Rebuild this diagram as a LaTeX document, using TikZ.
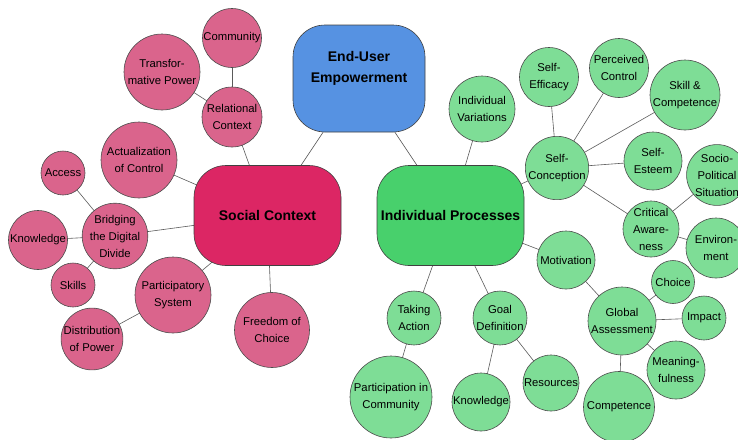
\documentclass[tikz,border=0pt]{standalone}
\usepackage{fontspec}
\setmainfont{Liberation Sans}
\definecolor{rootblue}{RGB}{86, 146, 226}
\definecolor{socred}{RGB}{220, 38, 100}
\definecolor{socpink}{RGB}{218, 100, 140}
\definecolor{indgreen}{RGB}{72, 208, 108}
\definecolor{leafgreen}{RGB}{126, 221, 150}
\definecolor{edgegray}{RGB}{90, 90, 90}
\usepackage{tikz}
\usetikzlibrary{shapes, positioning, backgrounds}

\begin{document}
\begin{tikzpicture}[x=1pt, y=-1pt,
  hub/.style={draw=black!75, rectangle, rounded corners=32pt, line width=0.6pt,
              font=\fontsize{14}{21}\selectfont\bfseries, align=center,
              minimum width=147pt, minimum height=100pt},
  pk/.style={draw=black!70, circle, fill=socpink, line width=0.6pt, inner sep=0pt,
             font=\fontsize{11.3}{17}\selectfont, align=center},
  gr/.style={draw=black!70, circle, fill=leafgreen, line width=0.6pt, inner sep=0pt,
             font=\fontsize{11.3}{17}\selectfont, align=center},
  link/.style={draw=edgegray, line width=0.6pt},
]
\useasboundingbox (0, 0) rectangle (738, 439);

% Main boxes
\node[hub, fill=rootblue, minimum width=132pt, minimum height=107pt] (eue) at (359, 78.5) {};
\node[font=\fontsize{14}{21}\selectfont\bfseries, align=center] (eue label) at (359, 68.5) {End-User\\Empowerment};
\node[hub, fill=socred] (soc) at (267.5, 215.5) {Social Context};
\node[hub, fill=indgreen] (ind) at (450.5, 215.5) {Individual Processes};

% Social context circles
\node[pk, minimum size=59pt] (comm) at (232, 38) {Community};
\node[pk, minimum size=76pt] (trans) at (162, 72) {Transfor-\\mative Power};
\node[pk, minimum size=60pt] (rel) at (232, 117) {Relational\\Context};
\node[pk, minimum size=76pt] (act) at (139, 160) {Actualization\\of Control};
\node[pk, minimum size=44pt] (access) at (63, 173) {Access};
\node[pk, minimum size=59pt] (bridge) at (115, 236) {Bridging\\the Digital\\Divide};
\node[pk, minimum size=59pt] (know1) at (38, 240) {Knowledge};
\node[pk, minimum size=44pt] (skills) at (73, 285) {Skills};
\node[pk, minimum size=76pt] (part) at (173, 295) {Participatory\\System};
\node[pk, minimum size=59pt] (dist) at (92, 339) {Distribution\\of Power};
\node[pk, minimum size=75pt] (free) at (272, 330) {Freedom of\\Choice};

% Individual processes circles
\node[gr, minimum size=66pt] (indvar) at (482, 109) {Individual\\Variations};
\node[gr, minimum size=59pt] (seff) at (549, 77) {Self-\\Efficacy};
\node[gr, minimum size=59pt] (perc) at (619, 68) {Perceived\\Control};
\node[gr, minimum size=70pt] (skill) at (685, 95) {Skill \&\\Competence};
\node[gr, minimum size=60pt] (scon) at (557, 168) {Self-\\Conception};
\node[gr, minimum size=58pt] (sest) at (653, 161) {Self-\\Esteem};
\node[gr, minimum size=58pt] (socio) at (717, 175) {Socio-\\Political\\Situation};
\node[gr, minimum size=56pt] (crit) at (651, 229) {Critical\\Aware-\\ness};
\node[gr, minimum size=60pt] (env) at (716, 248) {Environ-\\ment};
\node[gr, minimum size=58pt] (motiv) at (566, 260) {Motivation};
\node[gr, minimum size=43pt] (choice) at (673, 282) {Choice};
\node[gr, minimum size=68pt] (glob) at (622, 321) {Global\\Assessment};
\node[gr, minimum size=44pt] (impact) at (704, 318) {Impact};
\node[gr, minimum size=58pt] (mean) at (676, 370) {Meaning-\\fulness};
\node[gr, minimum size=71pt] (compet) at (619, 407) {Competence};
\node[gr, minimum size=54pt] (take) at (414, 318) {Taking\\Action};
\node[gr, minimum size=82pt] (partc) at (391, 397) {Participation in\\Community};
\node[gr, minimum size=54pt] (goal) at (500, 318) {Goal\\Definition};
\node[gr, minimum size=58pt] (know2) at (481, 402) {Knowledge};
\node[gr, minimum size=56pt] (res) at (551, 383) {Resources};

% Connectors behind the shapes
\begin{pgfonlayer}{background}
\draw[link] (eue.center) -- (soc.center);
\draw[link] (eue.center) -- (ind.center);
\draw[link] (soc.center) -- (rel.center);
\draw[link] (rel.center) -- (comm.center);
\draw[link] (rel.center) -- (trans.center);
\draw[link] (soc.center) -- (act.center);
\draw[link] (soc.center) -- (bridge.center);
\draw[link] (bridge.center) -- (access.center);
\draw[link] (bridge.center) -- (know1.center);
\draw[link] (bridge.center) -- (skills.center);
\draw[link] (soc.center) -- (part.center);
\draw[link] (part.center) -- (dist.center);
\draw[link] (soc.center) -- (free.center);

\draw[link] (ind.center) -- (indvar.center);
\draw[link] (ind.center) -- (scon.center);
\draw[link] (scon.center) -- (seff.center);
\draw[link] (scon.center) -- (perc.center);
\draw[link] (scon.center) -- (skill.center);
\draw[link] (scon.center) -- (sest.center);
\draw[link] (scon.center) -- (crit.center);
\draw[link] (crit.center) -- (socio.center);
\draw[link] (crit.center) -- (env.center);
\draw[link] (ind.center) -- (motiv.center);
\draw[link] (motiv.center) -- (glob.center);
\draw[link] (glob.center) -- (choice.center);
\draw[link] (glob.center) -- (impact.center);
\draw[link] (glob.center) -- (mean.center);
\draw[link] (glob.center) -- (compet.center);
\draw[link] (ind.center) -- (take.center);
\draw[link] (take.center) -- (partc.center);
\draw[link] (ind.center) -- (goal.center);
\draw[link] (goal.center) -- (know2.center);
\draw[link] (goal.center) -- (res.center);
\end{pgfonlayer}
\end{tikzpicture}
\end{document}
